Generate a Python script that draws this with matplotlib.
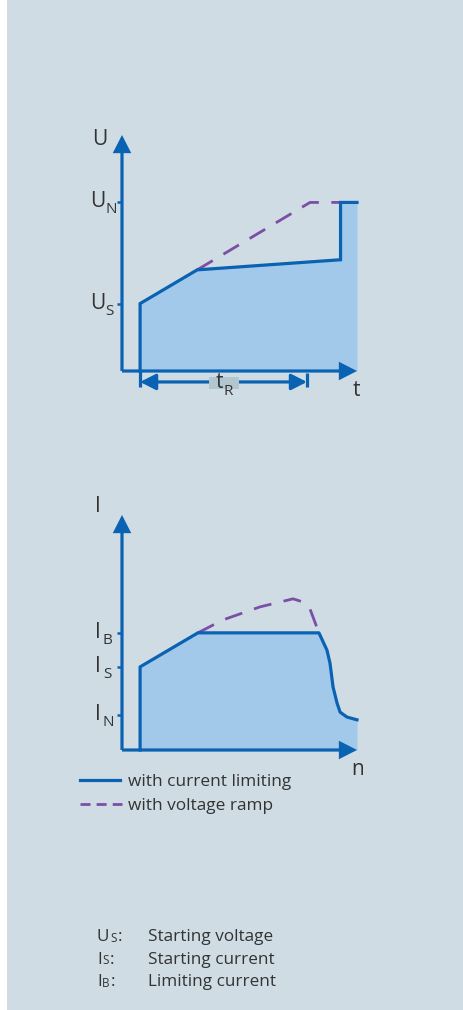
import matplotlib
matplotlib.use("Agg")
import matplotlib.pyplot as plt
from matplotlib.patches import Rectangle
from matplotlib.lines import Line2D

# ---------------- data ----------------
# Top chart: voltage U over time t (U in p.u. of U_N, t arbitrary units)
t_curr = [0.77, 0.77, 3.2, 9.3, 9.3, 10.0]
U_curr = [0.0, 0.40, 0.60, 0.66, 1.0, 1.0]
t_ramp = [3.2, 8.0, 9.3]
U_ramp = [0.60, 1.0, 1.0]
U_ticks = [0.40, 1.0]
tR_span = [0.77, 7.87]

# Bottom chart: current I over speed n (I in multiples of I_N, n in p.u.)
n_curr = [0.077, 0.077, 0.323, 0.838, 0.872, 0.885, 0.898, 0.915, 0.928, 0.957, 1.0]
I_curr = [0.0, 2.37, 3.34, 3.34, 2.85, 2.48, 1.80, 1.34, 1.08, 0.94, 0.86]
n_ramp = [0.323, 0.43, 0.587, 0.728, 0.77, 0.80, 0.838]
I_ramp = [3.34, 3.71, 4.08, 4.31, 4.22, 4.02, 3.34]
I_ticks = [1.0, 2.37, 3.34]

legend_labels = ["with current limiting", "with voltage ramp"]
notes = [("U", "S", "Starting voltage"), ("I", "S", "Starting current"), ("I", "B", "Limiting current")]

# ---------------- style ----------------
BG = "#cfdce4"
BLUE = "#0a62b3"
FILL = "#a3c9ea"
PURPLE = "#7c4ea6"
TXT = "#333333"
FONT = "Open Sans"
plt.rcParams["font.family"] = [FONT, "DejaVu Sans"]

W, H = 464, 1010
fig = plt.figure(figsize=(W / 100, H / 100), dpi=100)
fig.patch.set_facecolor("white")


def fx(x):
    return x / W


def fy(y):
    return 1 - y / H


fig.add_artist(Rectangle((fx(7), 0), 1 - fx(7), 1, transform=fig.transFigure,
                         facecolor=BG, edgecolor="none", zorder=0))


def make_axes(x0, x1, y_top, y_bot):
    ax = fig.add_axes([fx(x0), fy(y_bot), fx(x1) - fx(x0), fy(y_top) - fy(y_bot)])
    ax.set_facecolor("none")
    for s in ax.spines.values():
        s.set_visible(False)
    ax.set_xticks([])
    ax.set_yticks([])
    return ax


def sub_text(x, y, main, sub, size, subsize, dx=0.5, dy=-4, color=TXT, z=4):
    t = fig.text(fx(x), fy(y), main, fontsize=size, color=color, ha="left", va="baseline",
                 zorder=z)
    a = fig.add_artist(matplotlib.text.Annotation(
        sub, xy=(1, 0), xycoords=t, xytext=(dx, dy), textcoords="offset points",
        fontsize=subsize, color=color, ha="left", va="bottom", annotation_clip=False))
    a.set_zorder(z)
    return t, a


LW = 2.3
AX_LW = 2.3
HEAD = "-|>,head_length=0.47,head_width=0.24"


def axis_arrows(ax, xmax, ymax):
    ap = dict(arrowstyle=HEAD, lw=AX_LW, color=BLUE,
              shrinkA=0, shrinkB=0, mutation_scale=20, joinstyle="miter", capstyle="butt")
    ax.annotate("", xy=(xmax, 0), xytext=(0, 0), arrowprops=ap, annotation_clip=False)
    ax.annotate("", xy=(0, ymax), xytext=(0, 0), arrowprops=ap, annotation_clip=False)


# ---------------- top chart ----------------
ax1 = make_axes(122, 357, 135, 371)
ax1.set_xlim(0, 10)
ax1.set_ylim(0, 1.4)
ax1.fill_between(t_curr[1:], 0, U_curr[1:], color=FILL, lw=0, zorder=1)
ax1.plot(t_curr, U_curr, color=BLUE, lw=LW, solid_joinstyle="miter", zorder=3, clip_on=False)
ax1.plot(t_ramp, U_ramp, color=PURPLE, lw=2.0, dashes=(6.5, 4.5), zorder=2, clip_on=False)
axis_arrows(ax1, 10, 1.4)
for v in U_ticks:
    ax1.plot([-0.2, 0], [v, v], color=BLUE, lw=1.8, clip_on=False, solid_capstyle="butt")

# t_R dimension
ax1.plot([tR_span[0], tR_span[0]], [0, -0.095], color=BLUE, lw=AX_LW, clip_on=False,
         solid_capstyle="butt")
ax1.plot([tR_span[1], tR_span[1]], [-0.012, -0.095], color=BLUE, lw=AX_LW, clip_on=False,
         solid_capstyle="butt")
ax1.annotate("", xy=(tR_span[1], -0.065), xytext=(tR_span[0], -0.065),
             arrowprops=dict(arrowstyle="<|-|>,head_length=0.47,head_width=0.24", lw=AX_LW,
                             color=BLUE, shrinkA=0, shrinkB=0, mutation_scale=20),
             annotation_clip=False)
fig.add_artist(Rectangle((fx(209), fy(389)), fx(239) - fx(209), fy(377) - fy(389),
                         transform=fig.transFigure, facecolor="#b3c5cf", edgecolor="none",
                         zorder=5))
sub_text(216, 388, "t", "R", 15, 11, dx=0.3, dy=-4, z=6)

fig.text(fx(92), fy(145), "U", fontsize=15, color=TXT, ha="left", va="baseline")
fig.text(fx(353), fy(396), "t", fontsize=15, color=TXT, ha="left", va="baseline")
sub_text(90, 207, "U", "N", 15, 11, dx=0.3, dy=-3.5)
sub_text(90, 309, "U", "S", 15, 11, dx=0.3, dy=-3.5)

# ---------------- bottom chart ----------------
ax2 = make_axes(122, 357, 515, 750)
ax2.set_xlim(0, 1)
ax2.set_ylim(0, 6.7)
ax2.fill_between(n_curr[1:], 0, I_curr[1:], color=FILL, lw=0, zorder=1)
ax2.plot(n_curr, I_curr, color=BLUE, lw=LW, solid_joinstyle="round", zorder=3, clip_on=False)
ax2.plot(n_ramp, I_ramp, color=PURPLE, lw=2.0, dashes=(6.5, 4.5), zorder=2, clip_on=False)
axis_arrows(ax2, 1, 6.7)
for v in I_ticks:
    ax2.plot([-0.02, 0], [v, v], color=BLUE, lw=1.8, clip_on=False, solid_capstyle="butt")

fig.text(fx(95), fy(512), "I", fontsize=15, color=TXT, ha="left", va="baseline")
fig.text(fx(351), fy(775), "n", fontsize=15, color=TXT, ha="left", va="baseline")
sub_text(95, 720, "I", "N", 15, 11, dx=1.5, dy=-3.5)
sub_text(95, 672, "I", "S", 15, 11, dx=1.5, dy=-3.5)
sub_text(95, 638, "I", "B", 15, 11, dx=1.5, dy=-3.5)

# legend
fig.add_artist(Line2D([fx(80), fx(120)], [fy(780), fy(780)], color=BLUE, lw=LW,
                      transform=fig.transFigure))
fig.add_artist(Line2D([fx(80), fx(122)], [fy(804), fy(804)], color=PURPLE, lw=2.0,
                      dashes=(3.6, 2.2), transform=fig.transFigure))
fig.text(fx(128), fy(786), legend_labels[0], fontsize=12.4, color=TXT, ha="left", va="baseline")
fig.text(fx(128), fy(810), legend_labels[1], fontsize=12.4, color=TXT, ha="left", va="baseline")

# notes
for i, (m, s, desc) in enumerate(notes):
    yb = 941 + i * 22.5
    t, a = sub_text(97, yb, m, s, 12.3, 8.5, dx=0.3, dy=0)
    c = fig.add_artist(matplotlib.text.Annotation(
        ":", xy=(1, 0), xycoords=a, xytext=(0.8, 0), textcoords="offset points",
        fontsize=12.3, color=TXT, ha="left", va="bottom", annotation_clip=False))
    fig.text(fx(148), fy(yb), desc, fontsize=12.3, color=TXT, ha="left", va="baseline")

fig.savefig("out.png", dpi=100, facecolor=fig.get_facecolor())
